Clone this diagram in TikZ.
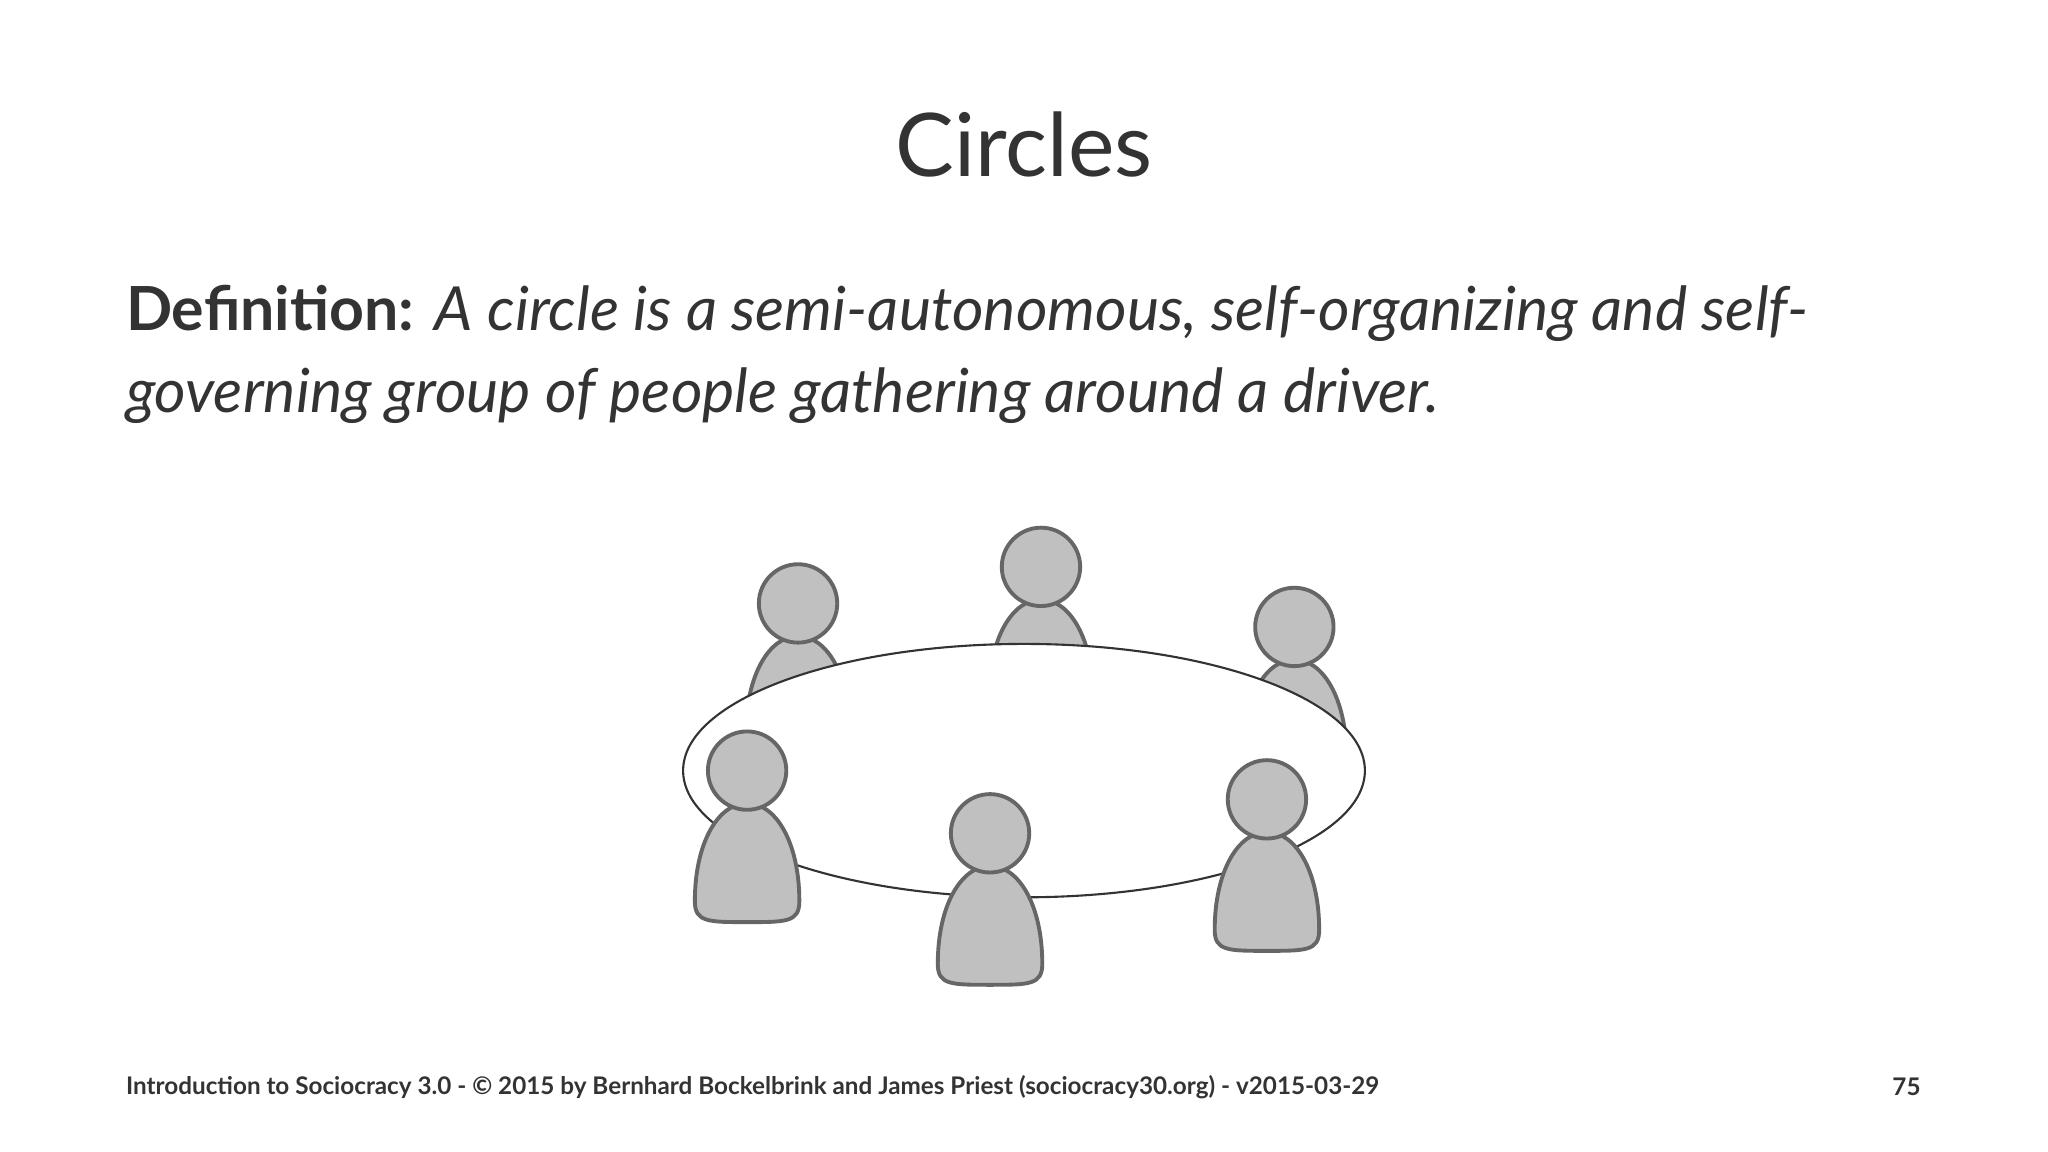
\documentclass[tikz,border=0pt]{standalone}
\usepackage{fontspec}
\setmainfont{Lato}
\definecolor{txt}{HTML}{333333}
\definecolor{pfill}{HTML}{C0C0C0}
\definecolor{pline}{HTML}{666666}
\tikzset{
  head/.style={circle,draw=pline,fill=pfill,line width=1.1pt,minimum size=22.3pt,inner sep=0pt},
  bodyst/.style={draw=pline,fill=pfill,line width=1.1pt},
}
\newcommand\myperson[3]{%
  \path[bodyst] (#1-40,#2+100) .. controls (#1-40,#2+55) and (#1-22,#2+25) .. (#1,#2+25)
    .. controls (#1+22,#2+25) and (#1+40,#2+55) .. (#1+40,#2+100)
    .. controls (#1+40,#2+116) and (#1+30,#2+116) .. (#1,#2+116)
    .. controls (#1-30,#2+116) and (#1-40,#2+116) .. (#1-40,#2+100) -- cycle;
  \node[head] (#3) at (#1,#2) {};}
\begin{document}
\begin{tikzpicture}[x=0.013061cm,y=-0.013061cm]
\useasboundingbox[fill=white] (0,0) rectangle (1568,882);
\node[text=txt,font=\fontsize{25}{30}\selectfont] (title) at (784,111) {Circles};
\node[text=txt,font=\fontsize{17.3}{23.4}\selectfont,anchor=north west,align=left,inner sep=0pt] (def) at (96,218)
 {\textbf{Definition:} \textit{A circle is a semi-autonomous, self-organizing and self-}\\\textit{governing group of people gathering around a driver.}};
\myperson{611}{462}{p1}
\myperson{797}{434}{p2}
\myperson{991}{480}{p3}
\path[draw=black!80,fill=white,line width=0.6pt] (784,590) ellipse [x radius=261,y radius=97];
\myperson{572}{590}{p4}
\myperson{758}{638}{p5}
\myperson{970}{612}{p6}
\node[text=txt,font=\fontsize{6.9}{8}\selectfont\bfseries,anchor=west,inner sep=0pt] (foot) at (96,832)
 {Introduction to Sociocracy 3.0 - © 2015 by Bernhard Bockelbrink and James Priest (sociocracy30.org) - v2015-03-29};
\node[text=txt,font=\fontsize{6.9}{8}\selectfont\bfseries,anchor=east,inner sep=0pt] (page) at (1471,832) {75};
\end{tikzpicture}
\end{document}
